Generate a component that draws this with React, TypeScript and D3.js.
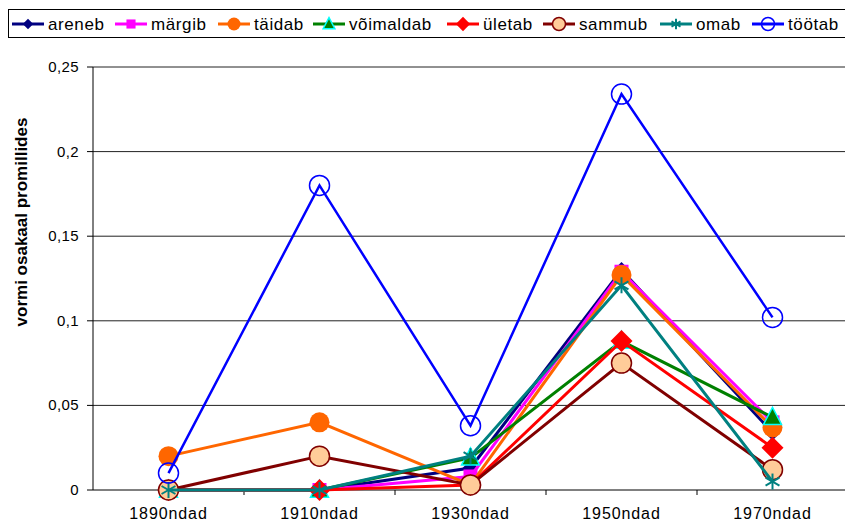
import React from "react";
import * as d3 from "d3";

const categories = ["1890ndad", "1910ndad", "1930ndad", "1950ndad", "1970ndad"];
const yTicks = [0, 0.05, 0.1, 0.15, 0.2, 0.25];

const areneb = [0, 0, 0.013, 0.13, 0.034];
const margib = [0, 0, 0.008, 0.129, 0.04];
const taidab = [0.02, 0.04, 0.003, 0.127, 0.037];
const voimaldab = [0, 0, 0.019, 0.088, 0.043];
const uletab = [0, 0, 0.003, 0.088, 0.025];
const sammub = [0, 0.02, 0.003, 0.075, 0.012];
const omab = [0, 0, 0.02, 0.121, 0.005];
const tootab = [0.01, 0.18, 0.038, 0.234, 0.102];

const seriesNames = ["areneb", "märgib", "täidab", "võimaldab", "ületab", "sammub", "omab", "töötab"];
const seriesValues = [areneb, margib, taidab, voimaldab, uletab, sammub, omab, tootab];
const seriesColors = ["#000080", "#FF00FF", "#FF6600", "#008000", "#FF0000", "#800000", "#008080", "#0000FF"];
const seriesMarkers = ["diamond", "square", "circle", "triangle", "bigdiamond", "peach", "star", "open"];
const legendX = [12, 115, 218, 313, 447, 543, 660, 752];

const W = 845, H = 523;
const left = 93, top = 67, bottom = 490;
const step = 151;

function Marker({ type, color, x, y, s = 1 }: { type: string; color: string; x: number; y: number; s?: number }) {
  switch (type) {
    case "diamond": {
      const r = 8 * s;
      return <path d={`M${x},${y - r}L${x + r},${y}L${x},${y + r}L${x - r},${y}Z`} fill={color} />;
    }
    case "bigdiamond": {
      const r = 11 * s;
      return <path d={`M${x},${y - r}L${x + r},${y}L${x},${y + r}L${x - r},${y}Z`} fill={color} />;
    }
    case "square": {
      const r = 7 * s;
      return <rect x={x - r} y={y - r} width={2 * r} height={2 * r} fill={color} />;
    }
    case "circle":
      return <circle cx={x} cy={y} r={10 * s} fill={color} />;
    case "triangle": {
      const r = 9 * s;
      return <path d={`M${x},${y - r * 1.1}L${x + r},${y + r * 0.8}L${x - r},${y + r * 0.8}Z`} fill="#008000" stroke="#00FFFF" strokeWidth={1.5} />;
    }
    case "peach":
      return <circle cx={x} cy={y} r={10 * s} fill="#FFCC99" stroke="#800000" strokeWidth={1.5} />;
    case "star": {
      const r = 8 * s;
      return (
        <g stroke={color} strokeWidth={2}>
          <line x1={x} y1={y - r} x2={x} y2={y + r} />
          <line x1={x - r * 0.87} y1={y - r * 0.5} x2={x + r * 0.87} y2={y + r * 0.5} />
          <line x1={x - r * 0.87} y1={y + r * 0.5} x2={x + r * 0.87} y2={y - r * 0.5} />
        </g>
      );
    }
    case "open":
      return <circle cx={x} cy={y} r={10 * s} fill="none" stroke={color} strokeWidth={1.5} />;
  }
  return null;
}

export default function App() {
  const x = d3.scaleBand<string>().domain(categories).range([left, left + step * categories.length]);
  const y = d3.scaleLinear().domain([0, 0.25]).range([bottom, top]);
  const cx = (c: string) => (x(c) as number) + x.bandwidth() / 2;
  const line = d3.line<number>().x((_, i) => cx(categories[i])).y((d) => y(d));
  const fmt = (v: number) => String(v).replace(".", ",");

  return (
    <svg width={W} height={H} style={{ position: "absolute", left: 0, top: 0 }} fontFamily="Liberation Sans, Arial, sans-serif">
      <rect width={W} height={H} fill="#fff" />
      {yTicks.map((t) => (
        <line key={t} x1={left} x2={W} y1={y(t)} y2={y(t)} stroke={t === 0 ? "#000" : "#222"} strokeWidth={1} />
      ))}
      <line x1={left} x2={left} y1={top} y2={bottom} stroke="#000" />
      {yTicks.map((t) => (
        <g key={"t" + t}>
          <line x1={left - 6} x2={left} y1={y(t)} y2={y(t)} stroke="#000" />
          <text x={79} y={y(t) + 5} textAnchor="end" fontSize={15} letterSpacing={0.4}>{fmt(t)}</text>
        </g>
      ))}
      {categories.slice(1).map((c) => (
        <line key={c} x1={x(c)} x2={x(c)} y1={bottom} y2={bottom + 5} stroke="#000" />
      ))}
      {categories.map((c) => (
        <text key={"l" + c} x={cx(c)} y={519} textAnchor="middle" fontSize={16} letterSpacing={0.9}>{c}</text>
      ))}
      <text transform={`translate(27,222) rotate(-90)`} textAnchor="middle" fontSize={17} fontWeight="bold">vormi osakaal promillides</text>
      {seriesValues.map((vals, si) => (
        <g key={seriesNames[si]}>
          <path d={line(vals) || ""} fill="none" stroke={seriesColors[si]} strokeWidth={seriesMarkers[si] === "open" ? 2.5 : 3} />
          {vals.map((v, i) => (
            <Marker key={i} type={seriesMarkers[si]} color={seriesColors[si]} x={cx(categories[i])} y={y(v)} />
          ))}
        </g>
      ))}
      <rect x={8.5} y={9.5} width={846} height={28} fill="#fff" stroke="#000" />
      {seriesNames.map((n, i) => (
        <g key={"lg" + n}>
          <line x1={legendX[i]} x2={legendX[i] + 32} y1={24} y2={24} stroke={seriesColors[i]} strokeWidth={3} />
          <Marker type={seriesMarkers[i]} color={seriesColors[i]} x={legendX[i] + 16} y={24} s={0.65} />
          <text x={legendX[i] + 36} y={30} fontSize={17} letterSpacing={0.6}>{n}</text>
        </g>
      ))}
    </svg>
  );
}
